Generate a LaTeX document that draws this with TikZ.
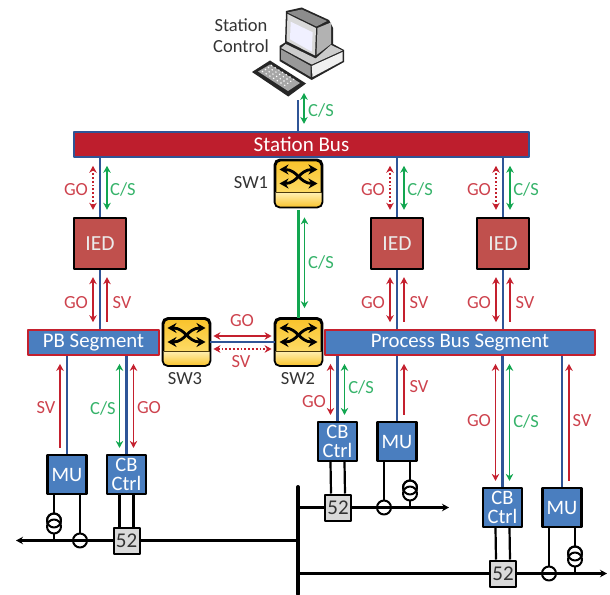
\documentclass[tikz,border=0pt]{standalone}
\usepackage{fontspec}
\usetikzlibrary{arrows.meta}
\setmainfont{Carlito}
\definecolor{lanblue}{HTML}{2F5597}
\definecolor{sigred}{HTML}{C4202E}
\definecolor{siggreen}{HTML}{12A650}
\definecolor{busred}{HTML}{BE1E2D}
\definecolor{segblue}{HTML}{4A7EBF}
\definecolor{iedred}{HTML}{C0504D}
\definecolor{swgold}{HTML}{F9C32B}
\definecolor{swpale}{HTML}{FFE57F}
\tikzset{
	lan/.style={draw=lanblue,line width=2.2pt},
	redarr/.style={draw=sigred,line width=1.8pt},
	greenarr/.style={draw=siggreen,line width=1.8pt},
	wire/.style={draw=black,line width=2.2pt},
	lbred/.style={text=sigred!85!white,font=\fontsize{18.5}{19}\selectfont,inner sep=0pt},
	lbgreen/.style={text=siggreen!85!white,font=\fontsize{18.5}{19}\selectfont,inner sep=0pt},
	lbblack/.style={text=black!80,font=\fontsize{18.5}{21}\selectfont,inner sep=0pt,align=center},
	ied/.style={draw=black,line width=2.4pt,fill=iedred,text=white!92!black,minimum width=52pt,minimum height=51pt,inner sep=0pt,font=\fontsize{21.5}{22}\selectfont},
	unit/.style={draw=black,line width=2.2pt,fill=segblue,text=white,minimum width=39pt,minimum height=39pt,inner sep=0pt,align=center,font=\fontsize{20.5}{18.5}\selectfont},
	brk/.style={draw=black,line width=2pt,fill=black!15,text=black!80,minimum width=26pt,minimum height=26pt,inner sep=0pt,font=\fontsize{21}{22}\selectfont},
	seg/.style={draw=sigred,line width=2.2pt,fill=segblue,text=white,minimum height=25pt,inner sep=0pt,font=\fontsize{20.8}{22}\selectfont},
	swbox/.style={draw=black,line width=1.8pt,rounded corners=5pt,top color=swgold,bottom color=swpale,minimum width=46pt,minimum height=46pt,inner sep=0pt},
	meter/.style={draw=black,line width=2pt,fill=white},
}
\begin{document}
\begin{tikzpicture}[x=1pt,y=-1pt,line join=round,>={Stealth[length=7pt,width=7.5pt]}]
	\useasboundingbox (0,0) rectangle (610,594);
	% station computer
	\fill[black!85] (286,11)--(301.7,7.5)--(329,20)--(333,28)--(333,44)--(344,50)--(344,62)--(311.7,80)--(279.5,61)--(279.5,46)--(285,42.5)--cycle;
	\fill[black!15] (287.5,14)--(316,28)--(315,55.5)--(286.5,41)--cycle;
	\fill[black!45] (287.5,12.5)--(301.7,9.5)--(327,21)--(316.5,26.5)--cycle;
	\fill[black!30] (317.5,28)--(331,22.5)--(331,44)--(316.5,55)--cycle;
	\fill[blue!6] (290.7,21.7)--(312.7,32.3)--(311.7,51.7)--(290,39.3)--cycle;
	\fill[black!20] (281,48)--(285.7,44)--(315.7,58.5)--(331,45)--(342.5,50.5)--(311.7,64.5)--cycle;
	\fill[black!6] (311.7,66)--(342.5,52)--(342.5,61)--(312.5,77)--cycle;
	\fill[black!40] (281,49.5)--(310.7,66)--(310.7,77)--(281,59.5)--cycle;
	\fill[black!85] (252,72)--(270,60.5)--(306,83.5)--(288.3,96.5)--cycle;
	\fill[black!35] (258,71.5)--(270,64.5)--(300,83)--(288,91)--cycle;
	\foreach \i in {0,...,6}
	\foreach \j in {0,...,3}
	\fill[white] (262.5+3.7*\i+3*\j,71.5+2.3*\i-2*\j) circle (0.8pt);
	\node[lbblack] (stlabel) at (241,35.5) {Station\\Control};
	\path (298,100) coordinate (pcport);
	% buses and segments
	\node[draw=lanblue,line width=2.2pt,fill=busred,text=white,minimum width=455pt,minimum height=25pt,inner sep=0pt,font=\fontsize{21}{22}\selectfont] (stbus) at (301.5,144.5) {Station Bus};
	\node[seg,minimum width=131pt] (pbseg) at (93.5,342.5) {PB Segment};
	\node[seg,minimum width=270pt] (prseg) at (460,342.5) {Process Bus Segment};
	% switches
	\node[swbox] (sw1) at (298.5,183.5) {};
	\node[swbox] (sw2) at (298.5,342) {};
	\node[swbox] (sw3) at (186.5,342) {};
	\foreach \n in {sw1,sw2,sw3}{
		\begin{scope}
			\clip[rounded corners=5pt] (\n.south west) rectangle (\n.north east);
			\fill[top color=swpale!60!white,bottom color=swgold] ([shift={(-24,9)}]\n.center) rectangle (\n.south east);
		\end{scope}
		\draw[line width=1pt,black!70!swgold] ([shift={(-23,9)}]\n.center)--([shift={(23,9)}]\n.center);
		\draw[rounded corners=5pt,line width=1.8pt] (\n.south west) rectangle (\n.north east);
		\draw[{Stealth[length=9pt,width=10pt]}-{Stealth[length=9pt,width=10pt]},line width=2.8pt] ([shift={(-19,-14)}]\n.center) .. controls ([shift={(-1,-14)}]\n.center) and ([shift={(1,0)}]\n.center) .. ([shift={(19,0)}]\n.center);
		\draw[{Stealth[length=9pt,width=10pt]}-{Stealth[length=9pt,width=10pt]},line width=2.8pt] ([shift={(-19,0)}]\n.center) .. controls ([shift={(-1,0)}]\n.center) and ([shift={(1,-14)}]\n.center) .. ([shift={(19,-14)}]\n.center);
	}
	\node[lbblack] (sw1label) at (251,183) {SW1};
	\node[lbblack] (sw2label) at (298,379) {SW2};
	\node[lbblack] (sw3label) at (185,379) {SW3};
	% IEDs
	\foreach \n/\x in {ied1/100,ied2/397,ied3/503}{
		\node[ied] (\n) at (\x,243.5) {IED};
		\draw[lan] (\n.north)--(\n.north |- stbus.south);
		\draw[lan] (\n.south)--(\n.south |- pbseg.north);
		\draw[redarr,dotted,<->] ([shift={(-7,-7)}]\n.north)--([shift={(-7,-51)}]\n.north);
		\draw[greenarr,<->] ([shift={(7,-7)}]\n.north)--([shift={(7,-51)}]\n.north);
		\draw[redarr,<->] ([shift={(-7,7)}]\n.south)--([shift={(-7,52)}]\n.south);
		\draw[redarr,<-] ([shift={(7,7)}]\n.south)--([shift={(7,52)}]\n.south);
		\node[lbred] (go\n a) at ([shift={(-24,-27)}]\n.north) {GO};
		\node[lbgreen] (cs\n) at ([shift={(23,-27)}]\n.north) {C/S};
		\node[lbred] (go\n b) at ([shift={(-24,32)}]\n.south) {GO};
		\node[lbred] (sv\n) at ([shift={(22,32)}]\n.south) {SV};
	}
	% station computer and SW1 links
	\draw[lan] (pcport)--(pcport |- stbus.north);
	\draw[greenarr,<->] ([shift={(6,-7)}]pcport |- stbus.north)--([shift={(6,-38)}]pcport |- stbus.north);
	\node[lbgreen] (cspc) at (321,110) {C/S};
	\draw[draw=siggreen,line width=3pt] ([yshift=-3pt]sw1.south)--(sw1.south |- sw2.north);
	\draw[greenarr,<->] ([shift={(6,10)}]sw1.south)--([shift={(6,-10)}]sw2.north);
	\node[lbgreen] (cssw) at (321,262) {C/S};
	% SW2 to SW3
	\draw[lan,line width=2.8pt] (sw3.east)--(sw2.west);
	\draw[redarr,<->] ([shift={(3,-6)}]sw3.east)--([shift={(-3,-6)}]sw2.west);
	\draw[redarr,dotted,<->] ([shift={(3,7)}]sw3.east)--([shift={(-3,7)}]sw2.west);
	\node[lbred] (gosw) at (242,321) {GO};
	\node[lbred] (svsw) at (241,362) {SV};
	% bays
	\node[unit] (mu1) at (67,474.5) {MU};
	\node[unit] (cb1) at (126.5,474.5) {CB\\Ctrl};
	\node[brk] (brk1) at (126.5,540.5) {52};
	\node[unit] (mu2) at (397,441.5) {MU};
	\node[unit] (cb2) at (337.5,441.5) {CB\\Ctrl};
	\node[brk] (brk2) at (338,507.5) {52};
	\node[unit] (mu3) at (562,507.5) {MU};
	\node[unit] (cb3) at (502.5,507.5) {CB\\Ctrl};
	\node[brk] (brk3) at (503,573.5) {52};
	\foreach \n/\s/\d/\h in {mu1/pbseg/-7/90,mu2/prseg/7/57,mu3/prseg/7/123}{
		\draw[lan] (\n.north)--(\n.north |- \s.south);
		\draw[redarr,<-] ([shift={(\d,-\h)}]\n.north)--([shift={(\d,-6)}]\n.north);
	}
	\foreach \n/\s/\g/\c/\h in {cb1/pbseg/7/-7/90,cb2/prseg/-7/7/57,cb3/prseg/-7/7/123}{
		\draw[lan] (\n.north)--(\n.north |- \s.south);
		\draw[redarr,<->] ([shift={(\g,-\h)}]\n.north)--([shift={(\g,-6)}]\n.north);
		\draw[greenarr,<->] ([shift={(\c,-\h)}]\n.north)--([shift={(\c,-6)}]\n.north);
	}
	\node[lbred] (svmu1) at (46,408) {SV};
	\node[lbgreen] (cscb1) at (103,408) {C/S};
	\node[lbred] (gocb1) at (149,408) {GO};
	\node[lbred] (gocb2) at (314,402) {GO};
	\node[lbgreen] (cscb2) at (361,387) {C/S};
	\node[lbred] (svmu2) at (419,387) {SV};
	\node[lbred] (gocb3) at (479,421) {GO};
	\node[lbgreen] (cscb3) at (526,421) {C/S};
	\node[lbred] (svmu3) at (582,421) {SV};
	% primary side
	\path
	(298,487) coordinate (busT)
	(298,594) coordinate (busB)
	(16,540.5) coordinate (end1)
	(449,507.5) coordinate (end2)
	(607,573.5) coordinate (end3)
	(54,540.5) coordinate (ct1)
	(80,540.5) coordinate (am1)
	(410,507.5) coordinate (ct2)
	(384,507.5) coordinate (am2)
	(575,573.5) coordinate (ct3)
	(549,573.5) coordinate (am3)
	;
	\foreach \n/\b/\c/\a in {1/brk1/ct1/am1,2/brk2/ct2/am2,3/brk3/ct3/am3}{
		\draw[wire] (mu\n.south -| \c)--(\c);
		\draw[wire] (mu\n.south -| \a)--(\a);
		\draw[wire] ([xshift=-7pt]cb\n.south)--([xshift=-7pt]\b.north);
		\draw[wire] ([xshift=7pt]cb\n.south)--([xshift=7pt]\b.north);
		\draw[meter] ([shift={(0,-20)}]\c) circle (7pt);
		\draw[meter] ([shift={(0,-14)}]\c) circle (7pt);
		\draw[draw=black,line width=2pt] ([shift={(0,-20)}]\c) circle (7pt);
		\draw[meter] (\a) circle (7pt);
	}
	\draw[wire,->] (brk1.west)--(end1);
	\draw[wire] (brk1.east)--(brk1 -| busT);
	\draw[wire] (brk2.west)--(brk2 -| busT);
	\draw[wire,->] (brk2.east)--(end2);
	\draw[wire] (brk3.west)--(brk3 -| busT);
	\draw[wire,->] (brk3.east)--(end3);
	\draw[line width=4pt,line cap=round] (busT)--(busB);
\end{tikzpicture}
\end{document}
